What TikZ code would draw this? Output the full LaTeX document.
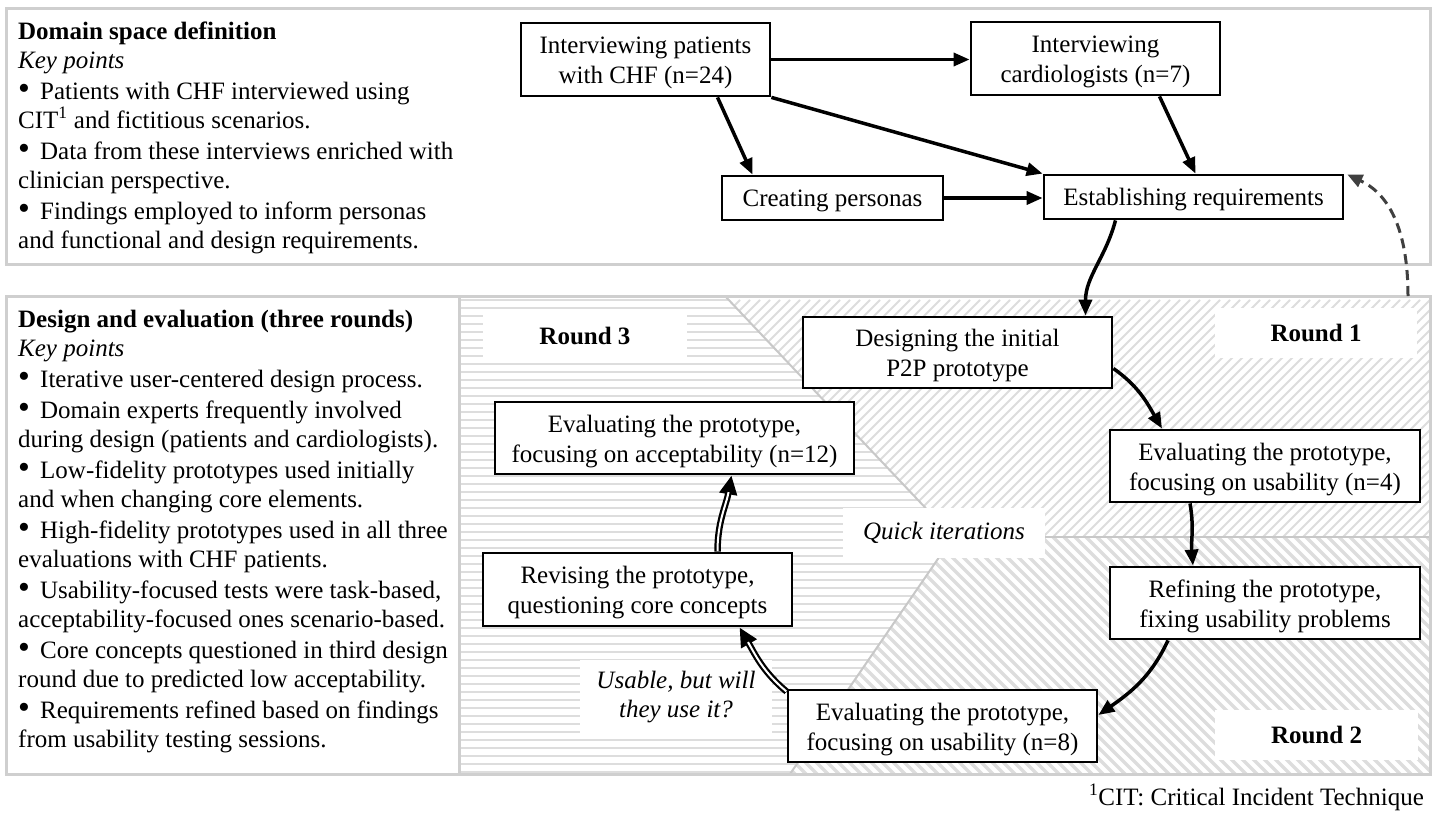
\documentclass[tikz,border=0pt]{standalone}
\usepackage{fontspec}
\setmainfont{Liberation Serif}
\usetikzlibrary{arrows.meta}
\definecolor{panelgray}{HTML}{CFCFCF}
\definecolor{hatchgray}{HTML}{DDDDDD}
\definecolor{bordergray}{HTML}{C8C8C8}
\definecolor{dashgray}{HTML}{404040}
\newcommand\myfs{\fontsize{25}{29}\selectfont}
\newcommand\myboxfs{\fontsize{25}{30}\selectfont}
\newcommand\mybul{\makebox[22pt][l]{\raisebox{-0.6pt}{\scalebox{1.35}{\textbullet}}}}
\begin{document}
\begin{tikzpicture}[x=1pt,y=1pt,
  every node/.style={font=\myfs, inner sep=0pt},
  box/.style={draw=black, line width=2.8pt, fill=white, align=center, font=\myboxfs},
  boxa/.style={box, text height=23pt, text depth=6pt},
  boxb/.style={box, text height=54pt, text depth=6pt},
  arr/.style={line width=3.5pt, -{Triangle[length=16pt,width=13pt]}},
  dblout/.style={line width=6.5pt, -{Triangle[length=19pt,width=17pt]}},
  dblin/.style={white, line width=2pt, shorten >=17pt, shorten <=0.5pt},
  dasharr/.style={dashgray, line width=3pt, dash pattern=on 10pt off 6pt, -{Triangle[length=15pt,width=13pt]}},
  lab/.style={fill=white, align=center},
  panel/.style={draw=panelgray, line width=3pt},
  hatch/.style={hatchgray},
  line/.style={anchor=base west},
]
\useasboundingbox (0,0) rectangle (1436,-814);
\fill[white] (0,0) rectangle (1436,-814);

% ---- hatching of the three rounds ----
\begin{scope}
  \clip (460,-296) -- (725,-296) -- (953,-537) -- (790,-774) -- (460,-774) -- cycle;
  \foreach \yy in {300,308,...,772} \draw[hatch, line width=2.2pt] (460,-\yy) -- (960,-\yy);
\end{scope}
\begin{scope}
  \clip (725,-296) -- (1430,-296) -- (1430,-537) -- (953,-537) -- cycle;
  \foreach \cc in {1000,1010,...,2000} \draw[hatch, line width=2pt] ({\cc-300},-300) -- ({\cc-540},-540);
\end{scope}
\begin{scope}
  \clip (953,-537) -- (1430,-537) -- (1430,-774) -- (790,-774) -- cycle;
  \foreach \cc in {-100,-89,...,1000} \draw[hatch, line width=3.4pt] ({\cc+530},-530) -- ({\cc+780},-780);
\end{scope}
\draw[bordergray, line width=2pt] (725,-296) -- (953,-537) -- (790,-774);
\draw[bordergray, line width=2pt] (953,-537) -- (1430,-537);

% ---- white labels ----
\node[lab, minimum width=204pt, minimum height=42pt, font=\myfs\bfseries] (r3) at (585,-336) {Round 3};
\node[lab, minimum width=202pt, minimum height=50pt, font=\myfs\bfseries] (r1) at (1316,-333) {Round 1};
\node[lab, minimum width=203pt, minimum height=50pt, font=\myfs\bfseries] (r2) at (1316.5,-735) {Round 2};
\node[lab, minimum width=202pt, minimum height=50pt, font=\myfs\itshape] (qi) at (944,-533) {Quick iterations};
\node[lab, minimum width=192pt, minimum height=75pt, font=\myfs\itshape] (us) at (676,-697) {Usable, but will\\they use it?};

% ---- panels ----
\draw[panel] (6,-8) rectangle (1430,-264);
\draw[panel] (6,-296) rectangle (1430,-774);
\draw[panel] (459,-296) -- (459,-774);

% ---- left texts ----
\node[line] (a1) at (18,-39) {\textbf{Domain space definition}};
\node[line] (a2) at (18,-68) {\textit{Key points}};
\node[line] (a3) at (18,-99) {\mybul Patients with CHF interviewed using};
\node[line] (a4) at (18,-128) {CIT\textsuperscript{1} and fictitious scenarios.};
\node[line] (a5) at (18,-159) {\mybul Data from these interviews enriched with};
\node[line] (a6) at (18,-188) {clinician perspective.};
\node[line] (a7) at (18,-219) {\mybul Findings employed to inform personas};
\node[line] (a8) at (18,-248) {and functional and design requirements.};

\node[line] (b1) at (18,-327) {\textbf{Design and evaluation (three rounds)}};
\node[line] (b2) at (18,-356) {\textit{Key points}};
\node[line] (b3) at (18,-387) {\mybul Iterative user-centered design process.};
\node[line] (b4) at (18,-418) {\mybul Domain experts frequently involved};
\node[line] (b5) at (18,-447) {during design (patients and cardiologists).};
\node[line] (b6) at (18,-478) {\mybul Low-fidelity prototypes used initially};
\node[line] (b7) at (18,-507) {and when changing core elements.};
\node[line] (b8) at (18,-538) {\mybul High-fidelity prototypes used in all three};
\node[line] (b9) at (18,-567) {evaluations with CHF patients.};
\node[line] (b10) at (18,-598) {\mybul Usability-focused tests were task-based,};
\node[line] (b11) at (18,-627) {acceptability-focused ones scenario-based.};
\node[line] (b12) at (18,-658) {\mybul Core concepts questioned in third design};
\node[line] (b13) at (18,-687) {round due to predicted low acceptability.};
\node[line] (b14) at (18,-718) {\mybul Requirements refined based on findings};
\node[line] (b15) at (18,-747) {from usability testing sessions.};

\node[anchor=base east] (fn) at (1424,-805) {\textsuperscript{1}CIT: Critical Incident Technique};

% ---- process boxes ----
\node[boxb, minimum width=249pt, minimum height=73pt] (pat) at (645.5,-59.5) {Interviewing patients\\with CHF (n=24)};
\node[boxb, minimum width=249pt, minimum height=73pt] (card) at (1095.5,-58.5) {Interviewing\\cardiologists (n=7)};
\node[boxa, minimum width=221pt, minimum height=44pt] (pers) at (832.5,-198) {Creating personas};
\node[boxa, minimum width=299pt, minimum height=44pt] (est) at (1193.5,-197) {Establishing requirements};
\node[boxb, minimum width=309pt, minimum height=71pt] (des) at (957.5,-352.5) {Designing the initial\\P2P prototype};
\node[boxb, minimum width=310pt, minimum height=72pt] (ev4) at (1265,-466) {Evaluating the prototype,\\focusing on usability (n=4)};
\node[boxb, minimum width=310pt, minimum height=72pt] (ref) at (1265,-603) {Refining the prototype,\\fixing usability problems};
\node[boxb, minimum width=309pt, minimum height=72pt] (ev8) at (942.5,-726) {Evaluating the prototype,\\focusing on usability (n=8)};
\node[boxb, minimum width=309pt, minimum height=73pt] (rev) at (637.5,-589.5) {Revising the prototype,\\questioning core concepts};
\node[boxb, minimum width=359pt, minimum height=72pt] (acc) at (674.5,-438) {Evaluating the prototype,\\focusing on acceptability (n=12)};

% ---- connectors ----
\draw[arr] (pat.east) -- (pat.east -| card.west);
\draw[arr] ([xshift=72pt]pat.south) -- ([xshift=-80pt]pers.north);
\draw[arr] (pat.south east) -- (est.north west);
\draw[arr] ([xshift=64pt]card.south) -- ([xshift=2pt]est.north);
\draw[arr] (pers.east) -- (pers.east -| est.west);
\draw[arr] ([xshift=-78pt]est.south) to[out=-105,in=90] ([xshift=128pt]des.north);
\draw[arr] ([yshift=-16pt]des.east) to[out=-35,in=120] ([xshift=-103pt]ev4.north);
\draw[arr] ([xshift=-75pt]ev4.south) to[out=-80,in=95] ([xshift=-72pt]ref.north);
\draw[arr] ([xshift=-97pt]ref.south) to[out=-115,in=35] ([yshift=11pt]ev8.east);

\draw[dblout] ([yshift=-3pt]ev8.north west) to[out=140,in=-60] ([xshift=102pt]rev.south);
\draw[dblin] ([yshift=-3pt]ev8.north west) to[out=140,in=-60] ([xshift=102pt]rev.south);
\draw[dblout] ([xshift=80pt]rev.north) to[out=90,in=-100] ([xshift=57pt]acc.south);
\draw[dblin] ([xshift=80pt]rev.north) to[out=90,in=-100] ([xshift=57pt]acc.south);

\coordinate (dstart) at (1408,-296);
\draw[dasharr] (dstart) to[out=90,in=-25] ([xshift=3pt,yshift=-1pt]est.north east);
\end{tikzpicture}
\end{document}
